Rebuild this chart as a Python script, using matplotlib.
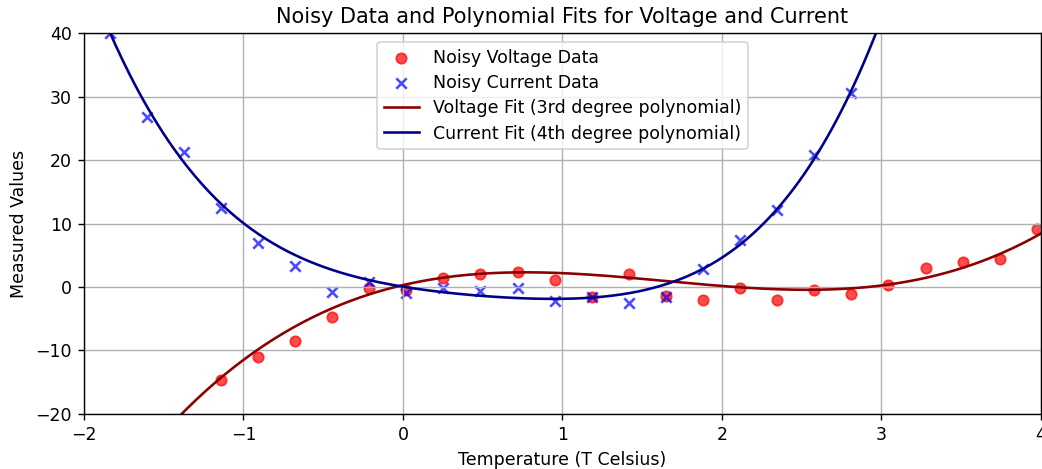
import numpy as np
import matplotlib
matplotlib.use('Agg')
from matplotlib import pyplot as plt

# temperatura (eixo x) e dados ruidosos (só os pontos visíveis)
temp_tensao = [-1.142, -0.910, -0.677, -0.444, -0.212, 0.021, 0.253, 0.486,
               0.719, 0.951, 1.184, 1.416, 1.649, 1.882, 2.114, 2.347, 2.579,
               2.812, 3.044, 3.277, 3.510, 3.742, 3.975]
tensao = [-14.6, -11.1, -8.5, -4.7, -0.2, -0.5, 1.4, 2.1, 2.4, 1.1, -1.5,
          2.1, -1.4, -2.0, -0.1, -2.05, -0.5, -1.15, 0.27, 3.0, 4.0, 4.4, 9.1]
temp_corrente = [-1.840, -1.607, -1.375, -1.142, -0.910, -0.677, -0.444,
                 -0.212, 0.021, 0.253, 0.486, 0.719, 0.951, 1.184, 1.416,
                 1.649, 1.882, 2.114, 2.347, 2.579, 2.812]
corrente = [40.0, 26.7, 21.2, 12.5, 7.0, 3.35, -0.74, 0.84, -0.9, -0.2, -0.6,
            -0.1, -2.15, -1.5, -2.5, -1.5, 2.9, 7.4, 12.2, 20.8, 30.5]

# coeficientes dos ajustes (maior grau primeiro)
coef_tensao = [1.0, -4.95, 5.83, 0.3]
coef_corrente = [0.934, -1.817, 3.110, -4.139, 0.05]
x_fit = np.linspace(-2, 4, 400)

fig = plt.figure(figsize=(1042 / 125, 469 / 125), dpi=125)
ax = fig.add_axes([0.0806, 0.1173, 0.9184, 0.8123])
ax.scatter(temp_tensao, tensao, c='red', alpha=0.7, label='Noisy Voltage Data')
ax.scatter(temp_corrente, corrente, c='blue', marker='x', alpha=0.7,
           label='Noisy Current Data')
ax.plot(x_fit, np.polyval(coef_tensao, x_fit), c='darkred',
        label='Voltage Fit (3rd degree polynomial)')
ax.plot(x_fit, np.polyval(coef_corrente, x_fit), c='darkblue',
        label='Current Fit (4th degree polynomial)')
ax.set_xlim(-2, 4)
ax.set_ylim(-20, 40)
ax.set_title('Noisy Data and Polynomial Fits for Voltage and Current')
ax.set_xlabel('Temperature (T Celsius)')
ax.set_ylabel('Measured Values')
ax.grid(True)
ax.legend(loc='upper center', labelspacing=0.42)
fig.savefig('out.png')
